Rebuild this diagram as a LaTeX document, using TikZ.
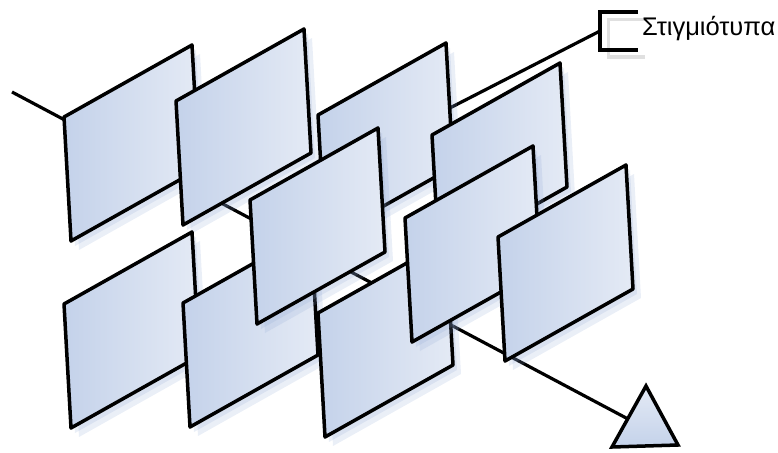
\documentclass[tikz,border=0pt]{standalone}
\usepackage{fontspec}
\setmainfont{Liberation Sans}
\usetikzlibrary{calc}
\definecolor{pnlL}{RGB}{196,210,234}
\definecolor{pnlR}{RGB}{228,234,245}
\definecolor{shd}{RGB}{140,165,210}
\tikzset{
  panel/.style={draw=black, line width=3.5pt, line join=round, left color=pnlL, right color=pnlR},
  panelshadow/.style={fill=shd, fill opacity=0.18},
  conn/.style={draw=black, line width=3.2pt},
  brack/.style={draw=black, line width=3.5pt},
  brackshadow/.style={draw=black!12, line width=3pt},
  tri/.style={draw=black, line width=3.5pt, line join=miter, top color=pnlR, bottom color=pnlL},
  lbl/.style={font=\fontsize{25.5}{30}\selectfont, anchor=west, inner sep=0pt}
}
\newcommand\defpanel[3]{%
  \coordinate (#1-tl) at (#2,#3);
  \coordinate (#1-tr) at ($(#1-tl)+(128,-72)$);
  \coordinate (#1-br) at ($(#1-tr)+(7,124)$);
  \coordinate (#1-bl) at ($(#1-tl)+(7,124)$);
  \coordinate (#1) at ($(#1-tl)!0.5!(#1-br)$);
}
\newcommand\drawpanel[1]{%
  \fill[panelshadow] ([shift={(4,5)}]#1-tl) -- ([shift={(4,5)}]#1-tr) -- ([shift={(4,5)}]#1-br) -- ([shift={(4,5)}]#1-bl) -- cycle;
  \fill[panelshadow] ([shift={(8,9)}]#1-tl) -- ([shift={(8,9)}]#1-tr) -- ([shift={(8,9)}]#1-br) -- ([shift={(8,9)}]#1-bl) -- cycle;
  \path[panel] (#1-tl) -- (#1-tr) -- (#1-br) -- (#1-bl) -- cycle;
}
\begin{document}
\begin{tikzpicture}[x=1pt,y=-1pt]
\useasboundingbox (0,0) rectangle (778,452);
% panel positions (top-left corners)
\defpanel{A}{64}{117}
\defpanel{B}{176}{101}
\defpanel{C}{318}{115}
\defpanel{D}{432}{135}
\defpanel{H}{64}{304}
\defpanel{I}{183}{303}
\defpanel{J}{318}{313}
\defpanel{E}{250}{200}
\defpanel{F}{405}{218}
\defpanel{G}{498}{237}
% triangle
\coordinate (tri-a) at (646,386);
\coordinate (tri-l) at (612,447);
\coordinate (tri-r) at (678,445);
\coordinate (tri) at (645,428);
% axis start and bracket
\coordinate (axs) at (12,92);
\coordinate (brk) at (600,31);
% connectors (behind panels)
\draw[conn] (axs) -- (tri);
\draw[conn] (C) -- (brk);
% panels back to front
\drawpanel{A}
\drawpanel{B}
\drawpanel{C}
\drawpanel{D}
\drawpanel{H}
\drawpanel{I}
\drawpanel{J}
\drawpanel{E}
\drawpanel{F}
\drawpanel{G}
% triangle
\path[tri] (tri-a) -- (tri-r) -- (tri-l) -- cycle;
% bracket
\draw[brackshadow] (645,20) -- (608,20) -- (608,57) -- (645,57);
\draw[brack] (638,12) -- (600,12) -- (600,50) -- (638,50);
\node[lbl] (label) at (642,29) {Στιγμιότυπα};
\end{tikzpicture}
\end{document}
